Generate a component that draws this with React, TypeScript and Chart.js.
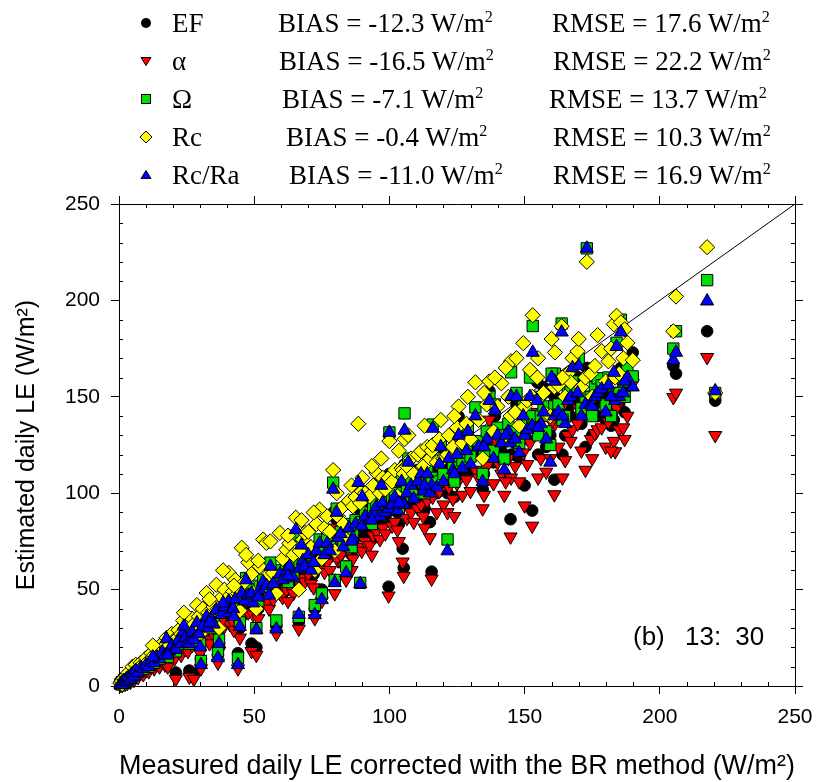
import { useEffect, useRef } from 'react';
import { Chart, registerables } from 'chart.js';

Chart.register(...registerables);

// measured daily LE (BR corrected), one entry per day
const measured = [
  0.5, 1.0, 1.2, 1.8, 2.2, 2.8, 3.0, 3.5, 4.2, 5.0, 5.5, 6.2, 7.0, 8.0, 9.0,
  10.0, 11.0, 12.0, 13.0, 14.0, 15.0, 16.0, 17.0, 17.6, 18.5, 19.5, 20.5, 21.0, 22.0, 23.0, 23.7, 24.5, 25.5, 26.0, 27.0, 27.7, 28.8, 29.5, 30.0, 30.3,
  31.0, 32.4, 33.0, 34.0, 35.0, 36.0, 36.6, 37.0, 38.0, 39.0, 40.6, 41.0, 42.2, 43.0, 44.0, 44.7, 45.4, 46.5, 47.8, 49.0, 49.6, 50.8, 52.0, 53.3, 54.5, 55.5, 57.0, 58.2, 59.5, 60.5,
  61.9, 63.0, 64.5, 65.4, 66.5, 66.8, 68.0, 68.7, 70.0, 71.0, 72.4, 73.0, 74.2, 75.0, 76.0, 77.0, 78.0, 79.2, 79.8, 81.0, 82.0, 83.0, 84.0, 85.0, 86.5, 87.5, 88.5, 89.2, 89.8, 91.0, 92.7, 94.0, 95.2, 96.5, 97.5, 98.5, 99.7, 100.0,
  101.0, 102.0, 103.0, 104.5, 104.9, 105.3, 105.6, 106.5, 108.0, 109.0, 110.5, 111.7, 112.5, 114.0, 115.0, 115.6, 116.0, 117.5, 118.5, 120.0, 121.5, 122.0, 123.5, 125.0, 125.6, 127.0, 128.5, 130.0, 131.8, 133.0, 134.5, 136.0, 137.0, 138.5,
  140.0, 141.4, 142.5, 144.0, 144.8, 145.0, 146.5, 148.0, 149.5, 150.0, 151.0, 152.0, 152.8, 153.0, 154.7, 156.0, 157.0, 158.0, 159.5, 161.0, 161.2, 162.5, 163.7, 165.0, 166.0, 167.0, 167.7, 169.6, 171.0, 172.5, 173.0, 174.5, 176.0, 177.0, 178.5, 180.0, 181.0, 183.0, 183.5, 184.0, 185.0, 185.6, 186.5, 188.0, 190.0,
  205.0, 206.0, 217.5, 220.5,
  12.5, 18.0, 24.0, 33.5, 38.5, 42.5, 47.0, 51.5, 56.0, 62.5, 67.5, 72.0, 80.5, 86.0, 90.0, 93.5, 97.0, 103.5, 107.0, 113.0, 119.0, 124.0, 129.0, 135.0, 139.0, 143.0, 147.0, 155.0, 160.0, 164.0, 170.0, 175.0, 182.0, 187.0,
];

const efValues = [
  0.8, 1.5, 0.5, 2.5, 1.5, 3.5, 2.0, 4.0, 3.0, 5.5, 4.0, 7.0, 6.0, 8.5, 7.5,
  10.0, 9.0, 12.0, 11.0, 13.5, 12.5, 15.5, 14.0, 20.0, 16.0, 18.5, 17.0, 7.0, 21.0, 19.0, 26.0, 22.0, 21.0, 8.0, 25.0, 6.0, 28.0, 26.0, 21.0, 14.0,
  29.0, 32.0, 28.0, 33.0, 30.0, 36.0, 16.0, 22.0, 35.0, 36.0, 40.0, 37.0, 38.0, 41.0, 17.0, 30.0, 45.0, 42.0, 44.0, 22.0, 43.0, 20.0, 48.0, 50.0, 49.0, 46.0, 51.0, 31.0, 55.0, 52.0,
  56.0, 58.0, 54.0, 62.0, 33.3, 60.0, 63.0, 60.0, 65.0, 60.0, 40.0, 68.0, 70.0, 50.0, 66.0, 72.0, 67.0, 90.0, 55.0, 72.0, 76.0, 70.0, 62.0, 78.0, 74.0, 80.0, 92.0, 80.0, 78.0, 84.0, 82.0, 86.0, 88.0, 84.0, 90.0, 87.0, 51.5, 110.0,
  92.0, 94.0, 90.0, 104.0, 71.2, 61.3, 115.0, 96.0, 100.0, 94.0, 102.0, 104.0, 98.0, 106.0, 85.0, 59.3, 108.0, 100.0, 112.0, 104.0, 100.0, 114.0, 108.0, 116.0, 139.8, 110.0, 118.0, 112.0, 124.0, 120.0, 102.0, 126.0, 153.0, 116.0,
  128.0, 122.0, 110.0, 130.0, 86.5, 120.0, 126.0, 118.0, 134.0, 104.0, 128.0, 140.0, 91.0, 150.0, 157.5, 132.0, 155.0, 124.0, 130.0, 107.0, 150.0, 138.0, 160.0, 130.0, 144.0, 140.0, 148.0, 150.0, 136.0, 124.0, 165.0, 142.0, 146.0, 140.0, 148.0, 138.0, 152.0, 138.0, 146.0, 160.0, 146.0, 165.0, 150.0, 156.0, 173.0,
  166.0, 162.0, 184.0, 148.0,
  14.0, 13.0, 27.0, 26.0, 40.0, 34.0, 50.0, 40.0, 60.0, 50.0, 70.0, 58.0, 86.0, 68.0, 95.0, 76.0, 100.0, 84.0, 112.0, 92.0, 120.0, 98.0, 128.0, 110.0, 140.0, 118.0, 146.0, 120.0, 152.0, 120.0, 160.0, 130.0, 135.0, 142.0,
];

const alphaValues = [
  0.5, 1.0, 0.3, 1.8, 1.0, 2.5, 1.5, 3.0, 2.0, 4.5, 3.0, 5.5, 4.5, 6.5, 6.0,
  8.0, 7.5, 10.0, 9.0, 11.0, 10.0, 13.0, 11.0, 17.0, 13.0, 15.5, 14.0, 3.6, 18.0, 16.0, 22.0, 19.0, 18.0, 4.7, 21.0, 3.6, 24.0, 22.0, 17.0, 9.0,
  25.0, 28.0, 24.0, 29.0, 26.0, 31.0, 12.0, 18.0, 30.0, 31.0, 35.0, 32.0, 33.0, 36.0, 9.0, 25.0, 39.0, 37.0, 38.0, 18.0, 37.0, 16.0, 42.0, 44.0, 43.0, 40.0, 45.0, 27.0, 48.0, 46.0,
  50.0, 52.0, 48.0, 56.0, 29.6, 53.0, 56.0, 54.0, 58.0, 53.0, 35.0, 61.0, 63.0, 44.0, 59.0, 64.0, 60.0, 82.0, 48.0, 65.0, 68.0, 62.0, 55.0, 70.0, 66.0, 72.0, 84.0, 72.0, 70.0, 75.0, 73.0, 78.0, 80.0, 76.0, 82.0, 79.0, 46.8, 100.0,
  83.0, 85.0, 81.0, 94.0, 64.4, 57.0, 104.0, 87.0, 90.0, 85.0, 92.0, 94.0, 88.0, 96.0, 77.0, 55.6, 98.0, 90.0, 101.0, 94.0, 90.0, 103.0, 97.0, 105.0, 126.0, 99.0, 107.0, 101.0, 112.0, 108.0, 92.0, 114.0, 138.0, 105.0,
  116.0, 110.0, 99.0, 118.0, 77.4, 108.0, 114.0, 106.0, 121.0, 93.5, 115.0, 126.0, 83.0, 135.0, 142.0, 118.0, 140.0, 111.0, 118.0, 99.3, 136.0, 124.0, 144.0, 117.0, 130.0, 127.0, 133.0, 136.0, 122.0, 112.0, 150.0, 128.0, 131.0, 133.0, 134.0, 124.0, 137.0, 127.0, 121.6, 144.0, 133.0, 148.0, 134.0, 140.0, 157.0,
  149.7, 152.0, 170.5, 130.0,
  12.0, 10.0, 23.0, 22.0, 35.0, 29.0, 44.0, 35.0, 53.0, 44.0, 62.0, 51.0, 77.0, 60.0, 86.0, 68.0, 90.0, 75.0, 101.0, 82.0, 108.0, 88.0, 116.0, 99.0, 126.0, 106.0, 131.0, 108.0, 137.0, 108.0, 144.0, 118.0, 122.0, 128.0,
];

const omegaValues = [
  1.0, 2.0, 0.8, 3.0, 2.0, 4.0, 2.5, 5.0, 4.0, 6.5, 5.5, 8.0, 7.5, 9.5, 9.0,
  11.5, 10.0, 14.0, 12.0, 15.5, 14.0, 18.0, 16.0, 23.0, 18.0, 21.0, 19.5, 18.0, 24.0, 22.0, 29.0, 25.0, 24.0, 22.0, 28.0, 24.0, 31.0, 28.0, 22.0, 13.0,
  32.0, 36.0, 31.0, 36.0, 33.0, 40.0, 18.0, 24.0, 38.0, 41.0, 45.0, 39.0, 41.0, 46.0, 14.6, 33.0, 50.0, 45.0, 48.0, 50.0, 46.0, 30.0, 52.0, 55.0, 53.0, 49.0, 55.0, 34.0, 60.0, 57.0,
  62.0, 64.0, 58.0, 78.0, 35.9, 63.0, 66.0, 64.0, 70.0, 63.0, 42.0, 72.0, 76.0, 48.0, 70.0, 76.0, 72.0, 105.5, 55.0, 78.0, 80.0, 74.0, 62.0, 84.0, 80.0, 86.0, 100.0, 53.5, 85.0, 90.0, 88.0, 92.0, 95.0, 90.0, 96.0, 92.0, 95.0, 131.5,
  97.0, 100.0, 94.0, 108.0, 100.0, 98.0, 141.4, 102.0, 106.0, 100.0, 108.0, 112.0, 104.0, 113.0, 105.0, 108.0, 135.6, 106.0, 118.0, 110.0, 76.0, 121.0, 115.0, 124.0, 132.0, 117.0, 125.0, 119.0, 144.5, 127.0, 110.0, 132.0, 150.0, 122.0,
  134.0, 130.0, 118.0, 136.0, 130.0, 162.7, 132.0, 126.0, 145.0, 135.0, 138.0, 160.0, 140.0, 186.7, 150.0, 140.0, 145.0, 132.0, 125.0, 145.0, 162.0, 146.0, 188.0, 140.0, 152.0, 153.0, 158.0, 153.0, 144.0, 150.0, 227.0, 150.0, 155.0, 159.6, 156.0, 146.0, 160.0, 152.0, 150.0, 178.0, 152.0, 190.0, 158.0, 165.0, 160.6,
  175.0, 184.0, 210.5, 152.0,
  16.0, 15.0, 30.0, 30.0, 44.0, 38.0, 56.0, 44.0, 64.0, 54.0, 74.0, 62.0, 92.0, 72.0, 100.0, 84.0, 106.0, 92.0, 118.0, 100.0, 126.0, 106.0, 134.0, 120.0, 146.0, 128.0, 152.0, 130.0, 162.0, 138.0, 170.0, 140.0, 140.0, 150.0,
];

const rcValues = [
  1.5, 2.5, 1.0, 4.0, 3.0, 5.5, 3.5, 7.0, 5.0, 10.0, 7.0, 11.0, 9.0, 12.0, 11.5,
  14.5, 13.0, 17.0, 16.0, 19.5, 18.0, 22.0, 21.0, 25.0, 23.0, 27.0, 24.0, 24.0, 29.0, 27.0, 34.0, 30.0, 31.0, 29.0, 35.0, 32.0, 42.0, 36.0, 27.0, 30.0,
  40.0, 48.2, 38.0, 44.0, 41.0, 52.5, 40.0, 30.0, 46.0, 50.0, 58.7, 47.0, 49.0, 55.0, 48.0, 39.0, 71.7, 54.0, 64.1, 58.0, 48.2, 40.0, 62.0, 76.0, 74.2, 58.0, 58.6, 48.0, 79.4, 66.0,
  70.7, 74.0, 68.0, 87.3, 50.0, 70.0, 76.0, 79.4, 80.0, 72.0, 60.0, 84.0, 91.5, 66.0, 82.0, 88.0, 80.0, 112.0, 70.0, 88.0, 92.0, 84.0, 76.0, 96.0, 93.2, 98.0, 136.0, 95.0, 101.0, 100.0, 98.4, 104.0, 110.5, 100.0, 108.0, 102.0, 108.0, 127.0,
  106.0, 112.0, 98.4, 113.0, 112.0, 110.0, 128.0, 114.0, 118.0, 110.0, 120.0, 121.8, 114.0, 124.0, 118.0, 122.0, 125.0, 116.0, 128.0, 118.0, 120.0, 130.0, 124.0, 134.0, 145.0, 126.0, 136.0, 128.0, 157.5, 138.0, 118.0, 146.0, 158.0, 132.0,
  145.0, 157.0, 128.0, 150.0, 140.0, 168.5, 142.0, 135.0, 177.8, 145.0, 148.0, 164.0, 150.0, 192.3, 160.0, 150.0, 152.0, 141.0, 140.0, 155.0, 173.0, 156.0, 186.6, 150.0, 162.0, 157.5, 170.0, 173.6, 155.0, 160.0, 220.0, 162.0, 166.0, 182.0, 173.7, 158.0, 168.4, 187.6, 160.0, 192.0, 162.0, 188.6, 170.0, 178.0, 169.0,
  184.0, 202.0, 227.6, 152.0,
  21.0, 20.0, 38.0, 45.0, 60.0, 52.0, 68.0, 65.0, 75.0, 78.0, 86.0, 90.0, 100.0, 104.0, 108.0, 114.0, 118.0, 122.0, 130.0, 135.0, 138.0, 140.0, 150.0, 152.0, 160.0, 165.0, 170.0, 170.0, 180.0, 160.0, 180.0, 150.0, 175.0, 185.0,
];

const rcRaValues = [
  0.8, 1.8, 0.6, 2.8, 2.0, 3.8, 2.5, 4.5, 3.5, 6.5, 5.0, 8.0, 7.0, 9.5, 9.0,
  11.0, 10.0, 13.5, 12.0, 15.0, 14.0, 17.5, 16.0, 24.4, 18.0, 21.0, 19.0, 19.0, 24.0, 22.0, 28.0, 25.0, 23.0, 22.0, 28.0, 24.0, 32.7, 27.0, 20.2, 11.0,
  31.0, 36.0, 30.0, 35.0, 32.0, 39.5, 14.6, 21.9, 37.0, 41.0, 44.0, 38.0, 40.0, 45.0, 11.0, 30.8, 48.0, 44.0, 47.0, 48.0, 43.0, 29.1, 50.0, 54.0, 52.0, 47.0, 53.0, 29.5, 58.0, 55.0,
  60.0, 62.0, 56.0, 81.0, 37.0, 61.0, 65.0, 62.0, 68.0, 60.0, 36.9, 70.0, 74.0, 44.7, 68.0, 74.0, 70.0, 102.0, 53.5, 77.0, 79.0, 72.0, 58.6, 82.0, 76.8, 84.0, 105.5, 53.0, 83.0, 88.0, 86.0, 90.0, 93.0, 88.0, 95.0, 90.0, 92.0, 131.5,
  94.0, 98.0, 91.0, 106.0, 96.0, 94.0, 132.6, 100.0, 104.0, 97.0, 106.0, 110.0, 101.0, 110.0, 100.0, 104.0, 133.6, 103.0, 115.0, 106.0, 70.0, 118.0, 112.0, 120.0, 130.0, 113.0, 122.0, 115.0, 140.0, 124.0, 106.0, 128.0, 148.0, 118.0,
  130.0, 126.0, 112.0, 132.0, 126.0, 150.0, 128.0, 121.0, 140.0, 130.0, 133.0, 150.0, 135.0, 173.0, 148.0, 136.0, 142.0, 128.0, 116.0, 140.0, 158.0, 142.0, 183.5, 136.0, 148.0, 150.0, 165.0, 152.0, 140.0, 146.0, 227.0, 146.0, 150.0, 152.0, 154.0, 142.0, 156.0, 162.6, 148.0, 176.0, 150.0, 183.5, 152.0, 160.0, 155.0,
  169.0, 173.0, 199.6, 153.0,
  15.0, 16.0, 31.0, 33.0, 43.0, 36.0, 55.0, 46.0, 62.0, 57.0, 73.0, 64.0, 90.0, 75.0, 98.0, 86.0, 104.0, 95.0, 116.0, 104.0, 124.0, 110.0, 132.0, 124.0, 143.0, 130.0, 150.0, 134.0, 160.0, 140.0, 166.0, 145.0, 150.0, 158.0,
];

const seriesNames = ['EF', 'α', 'Ω', 'Rc', 'Rc/Ra'];
const biasLabels = ['-12.3', '-16.5', '-7.1', '-0.4', '-11.0'];
const rmseLabels = ['17.6', '22.2', '13.7', '10.3', '16.9'];

const axisMin = 0;
const axisMax = 250;
const majorStep = 50;
const minorStep = 10;

const SANS = '"Liberation Sans", Arial, sans-serif';
const SERIF = '"Liberation Serif", "Times New Roman", serif';

// legend row layout (pixels)
const rowCenters = [23, 61, 99, 137, 175];
const biasLeft = [278, 279, 282, 286, 289];
const rmseLeft = [552, 553, 549, 553, 553];

const toPoints = (ys: number[]) => measured.map((x, i) => ({ x, y: ys[i] }));

const minorTicks = {
  id: 'minorTicks',
  afterDraw(chart: any) {
    const { ctx, chartArea: a, scales } = chart;
    ctx.save();
    ctx.strokeStyle = '#000';
    ctx.lineWidth = 1;
    ctx.beginPath();
    for (let v = axisMin + minorStep; v < axisMax; v += minorStep) {
      if (v % majorStep === 0) continue;
      const px = Math.round(scales.x.getPixelForValue(v)) + 0.5;
      ctx.moveTo(px, a.bottom);
      ctx.lineTo(px, a.bottom - 4);
      ctx.moveTo(px, a.top);
      ctx.lineTo(px, a.top + 4);
      const py = Math.round(scales.y.getPixelForValue(v)) + 0.5;
      ctx.moveTo(a.left, py);
      ctx.lineTo(a.left + 4, py);
      ctx.moveTo(a.right, py);
      ctx.lineTo(a.right - 4, py);
    }
    ctx.stroke();
    ctx.restore();
  },
};

const frameGrid = { drawOnChartArea: false, color: '#000', tickLength: 8, lineWidth: 1 };
const frameBorder = { display: true, color: '#000', width: 1 };

const Marker = ({ kind }: { kind: number }) => {
  const common = { stroke: '#000', strokeWidth: 1 };
  let shape;
  if (kind === 0) shape = <circle cx={8} cy={8} r={5} fill="#000" />;
  else if (kind === 1) shape = <polygon points="3,4.5 13,4.5 8,12.5" fill="#ff0000" {...common} />;
  else if (kind === 2) shape = <rect x={3.5} y={3.5} width={9} height={9} fill="#00e000" {...common} />;
  else if (kind === 3) shape = <polygon points="8,2 14,8 8,14 2,8" fill="#ffff00" {...common} />;
  else shape = <polygon points="8,3.5 13,11.5 3,11.5" fill="#0000ff" {...common} />;
  return <svg width={16} height={16} style={{ position: 'absolute', left: 138, top: -8 }}>{shape}</svg>;
};

const sup = { fontSize: '0.6em', position: 'relative' as const, top: '-0.6em' };

const App = () => {
  const canvasRef = useRef<HTMLCanvasElement>(null);

  useEffect(() => {
    if (!canvasRef.current) return;
    const pointBase = { borderColor: '#000', borderWidth: 1, showLine: false, clip: false as any };
    const chart = new Chart(canvasRef.current, {
      type: 'scatter',
      data: {
        datasets: [
          { label: '1:1', data: [{ x: axisMin, y: axisMin }, { x: axisMax, y: axisMax }], showLine: true, borderColor: '#000', borderWidth: 1, pointRadius: 0, order: 6 },
          { ...pointBase, label: 'EF', data: toPoints(efValues), pointStyle: 'circle', pointRadius: 5.8, backgroundColor: '#000', order: 5 },
          { ...pointBase, label: 'α', data: toPoints(alphaValues), pointStyle: 'triangle', rotation: 180, pointRadius: 7.6, backgroundColor: '#ff0000', order: 4 },
          { ...pointBase, label: 'Ω', data: toPoints(omegaValues), pointStyle: 'rect', pointRadius: 8, backgroundColor: '#00e000', order: 3 },
          { ...pointBase, label: 'Rc', data: toPoints(rcValues), pointStyle: 'rectRot', pointRadius: 7.6, backgroundColor: '#ffff00', order: 2 },
          { ...pointBase, label: 'Rc/Ra', data: toPoints(rcRaValues), pointStyle: 'triangle', pointRadius: 7.6, backgroundColor: '#0000ff', order: 1 },
        ] as any,
      },
      options: {
        animation: false,
        responsive: false,
        events: [],
        layout: { padding: 0 },
        plugins: { legend: { display: false }, tooltip: { enabled: false } },
        scales: {
          x: {
            type: 'linear', position: 'bottom', min: axisMin, max: axisMax,
            ticks: { stepSize: majorStep, color: '#000', font: { family: SANS, size: 21 }, padding: 11, maxRotation: 0 },
            grid: frameGrid, border: frameBorder,
            title: { display: true, text: 'Measured daily LE corrected with the BR method (W/m²)', color: '#000', font: { family: SANS, size: 27 }, padding: { top: 0, bottom: -1 } },
            afterFit: (s: any) => { s.height = 96; s.paddingLeft = 0; s.paddingRight = 0; },
          },
          x2: {
            type: 'linear', position: 'top', min: axisMin, max: axisMax,
            ticks: { stepSize: majorStep, display: false },
            grid: frameGrid, border: frameBorder,
            afterFit: (s: any) => { s.height = 204; s.paddingLeft = 0; s.paddingRight = 0; },
          },
          y: {
            type: 'linear', position: 'left', min: axisMin, max: axisMax,
            ticks: { stepSize: majorStep, color: '#000', font: { family: SANS, size: 21 }, padding: 11 },
            grid: frameGrid, border: frameBorder,
            title: { display: true, text: 'Estimated daily LE (W/m²)', color: '#000', font: { family: SANS, size: 25 }, padding: { top: 12, bottom: 0 } },
            afterFit: (s: any) => { s.width = 119; s.paddingTop = 0; s.paddingBottom = 0; },
          },
          y2: {
            type: 'linear', position: 'right', min: axisMin, max: axisMax,
            ticks: { stepSize: majorStep, display: false },
            grid: frameGrid, border: frameBorder,
            afterFit: (s: any) => { s.width = 21; s.paddingTop = 0; s.paddingBottom = 0; },
          },
        },
      } as any,
      plugins: [minorTicks],
    });
    return () => chart.destroy();
  }, []);

  return (
    <div style={{ position: 'absolute', left: 0, top: 0, width: 816, height: 782, background: '#fff' }}>
      <canvas ref={canvasRef} width={816} height={782} style={{ width: 816, height: 782, display: 'block' }} />
      {seriesNames.map((name, i) => (
        <div key={name} style={{ position: 'absolute', left: 0, top: rowCenters[i], width: 816, height: 0, fontFamily: SERIF, fontSize: 27, color: '#000' }}>
          <Marker kind={i} />
          <span style={{ position: 'absolute', left: 172, top: -15, lineHeight: '30px', whiteSpace: 'nowrap' }}>{name}</span>
          <span style={{ position: 'absolute', left: biasLeft[i], top: -15, lineHeight: '30px', whiteSpace: 'nowrap' }}>
            BIAS = {biasLabels[i]} W/m<span style={sup}>2</span>
          </span>
          <span style={{ position: 'absolute', left: rmseLeft[i], top: -15, lineHeight: '30px', whiteSpace: 'nowrap' }}>
            RMSE = {rmseLabels[i]} W/m<span style={sup}>2</span>
          </span>
        </div>
      ))}
      <div style={{ position: 'absolute', left: 633, top: 621, fontFamily: SANS, fontSize: 26, lineHeight: '30px', whiteSpace: 'nowrap', color: '#000' }}>
        <span style={{ wordSpacing: 13 }}>(b) </span>
        <span style={{ wordSpacing: 7 }}>13: 30</span>
      </div>
    </div>
  );
};

export default App;
